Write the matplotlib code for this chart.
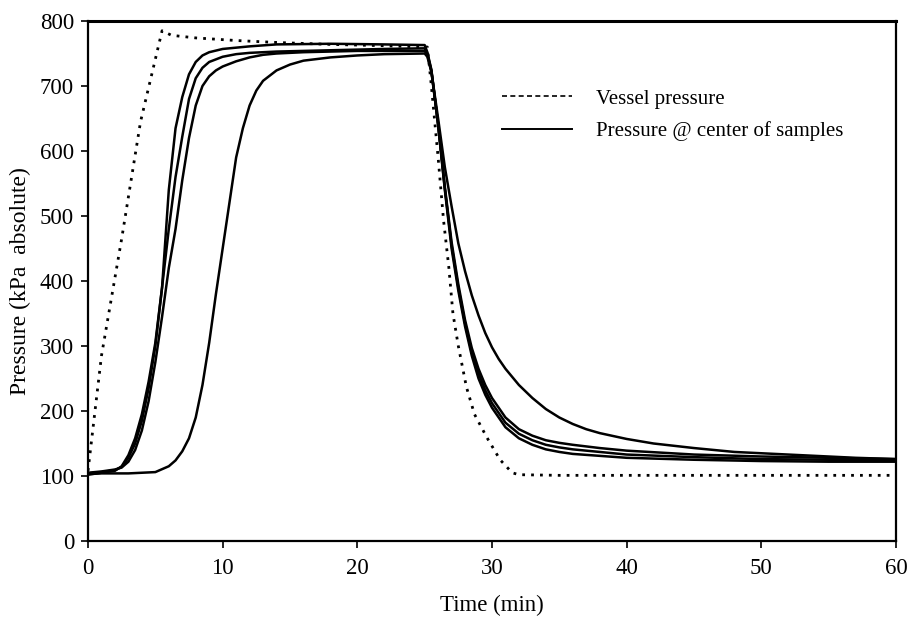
import matplotlib
matplotlib.use("Agg")
import matplotlib.pyplot as plt
from matplotlib.lines import Line2D

plt.rcParams['font.family'] = ['Liberation Serif', 'DejaVu Serif']
plt.rcParams['font.size'] = 15

# Vessel pressure (dotted)
vessel_t = [0, 1.0, 2.5, 3.9, 5.5, 6.2, 8, 11, 14, 18, 22, 25.2, 25.5, 26, 26.4,
            26.8, 27.1, 27.5, 28.1, 28.7, 29.6, 30.6, 31.5, 32, 35, 60]
vessel_p = [108, 285, 465, 645, 785, 778, 774, 770, 767, 764, 762, 760, 700, 590, 494,
            420, 350, 300, 237, 195, 160, 125, 105, 102, 101, 101]

# Pressure at center of samples (four samples)
s1_t = [0, 1, 2, 2.5, 3, 3.5, 4, 4.5, 5, 5.5, 6, 6.5, 7, 7.5, 8, 8.5, 9, 10, 12, 14, 18, 22, 25,
        25.2, 25.5, 26, 26.5, 27, 27.5, 28, 28.5, 29, 29.5, 30, 31, 32, 33, 34, 35, 36, 38, 40,
        45, 50, 55, 60]
s1_p = [104, 106, 109, 114, 128, 150, 185, 235, 300, 390, 540, 635, 683, 718, 737, 747, 752, 757,
        761, 764, 765, 764, 763,
        752, 725, 640, 540, 450, 385, 330, 285, 250, 225, 205, 175, 158, 148, 141, 137, 134, 131,
        128, 125, 123, 122, 122]

s2_t = [0, 1, 2, 2.5, 3, 3.5, 4, 4.5, 5, 5.5, 6, 6.5, 7, 7.5, 8, 8.5, 9, 10, 11, 12, 14, 18, 22,
        25, 25.2, 25.5, 26, 26.5, 27, 27.5, 28, 28.5, 29, 29.5, 30, 31, 32, 33, 34, 35, 36, 38,
        40, 45, 50, 55, 60]
s2_p = [102, 105, 108, 115, 132, 158, 195, 245, 305, 390, 480, 560, 622, 680, 712, 728, 737, 745,
        749, 751, 753, 755, 757, 758,
        750, 724, 640, 542, 455, 390, 335, 290, 258, 232, 212, 182, 165, 155, 148, 144, 141, 137,
        133, 129, 126, 125, 124]

s3_t = [0, 1, 2, 2.5, 3, 3.5, 4, 4.5, 5, 5.5, 6, 6.5, 7, 7.5, 8, 8.5, 9, 9.5, 10, 11, 12, 13, 14,
        16, 20, 25, 25.2, 25.5, 26, 26.5, 27, 27.5, 28, 28.5, 29, 29.5, 30, 31, 32, 33, 34, 35,
        36, 38, 40, 45, 50, 55, 60]
s3_p = [105, 107, 110, 113, 122, 140, 170, 215, 275, 345, 420, 480, 555, 620, 670, 700, 715, 724,
        730, 738, 744, 748, 750, 752, 754, 754,
        748, 722, 642, 545, 460, 395, 340, 297, 265, 240, 220, 190, 172, 162, 155, 151, 148, 143,
        139, 133, 130, 128, 126]

s4_t = [0, 1, 2, 3, 4, 5, 6, 6.5, 7, 7.5, 8, 8.5, 9, 9.5, 10, 10.5, 11, 11.5, 12, 12.5, 13, 14,
        15, 16, 18, 20, 22, 25, 25.2, 25.5, 26, 26.5, 27, 27.5, 28, 28.5, 29, 29.5, 30, 30.5, 31,
        32, 33, 34, 35, 36, 37, 38, 40, 42, 45, 48, 51, 54, 57, 60]
s4_p = [103, 104, 104, 104, 105, 106, 115, 124, 138, 158, 190, 240, 305, 380, 450, 520, 590, 635,
        670, 693, 708, 724, 733, 739, 744, 747, 749, 750,
        745, 722, 650, 575, 515, 458, 415, 378, 347, 320, 298, 280, 265, 240, 220, 203, 190, 180,
        172, 166, 157, 150, 143, 137, 134, 131, 128, 126]

x_ticks = [0, 10, 20, 30, 40, 50, 60]
y_ticks = [0, 100, 200, 300, 400, 500, 600, 700, 800]

fig = plt.figure(figsize=(9.11, 6.18), dpi=100)
ax = fig.add_axes([0.0966, 0.1246, 0.8869, 0.8414])

dot_style = (0, (1.0, 2.2))
ax.plot(vessel_t, vessel_p, color='black', lw=2.0, linestyle=dot_style)
for t, p in [(s1_t, s1_p), (s2_t, s2_p), (s3_t, s3_p), (s4_t, s4_p)]:
    ax.plot(t, p, color='black', lw=1.8, solid_joinstyle='round')

ax.set_xlim(0, 60)
ax.set_ylim(0, 800)
ax.set_xticks(x_ticks)
ax.set_yticks(y_ticks)
ax.tick_params(direction='out', length=5, width=1.2, labelsize=16.5, pad=5)
ax.tick_params(axis='x', pad=7)
for s in ax.spines.values():
    s.set_linewidth(1.6)
    s.set_color('black')
ax.spines['top'].set_linewidth(2.2)

ax.set_xlabel('Time (min)', fontsize=16.5, labelpad=12)
ax.set_ylabel('Pressure (kPa  absolute)', fontsize=17, labelpad=6)

handles = [Line2D([], [], color='black', lw=1.2, linestyle=(0, (3, 2))),
           Line2D([], [], color='black', lw=1.4)]
ax.legend(handles, ['Vessel pressure', 'Pressure @ center of samples'],
          loc='upper left', bbox_to_anchor=(0.512, 0.869), frameon=False,
          borderpad=0, borderaxespad=0, handlelength=3.37, handletextpad=1.15,
          labelspacing=0.6, fontsize=15)

fig.savefig('out.png', dpi=100)
